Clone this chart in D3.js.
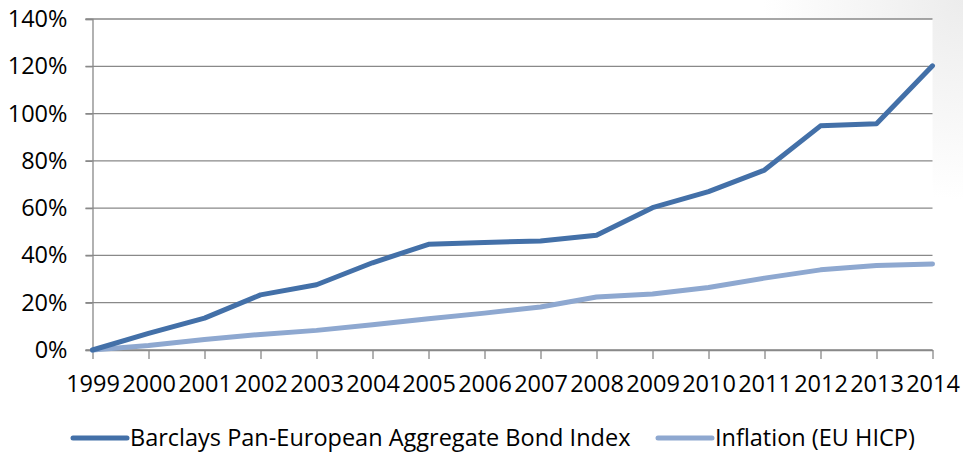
<!DOCTYPE html>
<html>
<head>
<meta charset="utf-8">
<script src="https://cdn.jsdelivr.net/npm/d3@7"></script>
<style>
  body { margin: 0; background: #fff; }
  svg text { font-family: "Open Sans", sans-serif; fill: #000; }
</style>
</head>
<body>
<div id="chart"></div>
<script>
const years = [1999, 2000, 2001, 2002, 2003, 2004, 2005, 2006, 2007, 2008, 2009, 2010, 2011, 2012, 2013, 2014]
const bondIndex = [0, 7, 13.5, 23.3, 27.6, 36.9, 44.7, 45.5, 46.1, 48.5, 60.2, 67, 76.1, 94.8, 95.7, 120.2]
const inflation = [0, 1.9, 4.4, 6.6, 8.3, 10.7, 13.2, 15.6, 18.2, 22.4, 23.7, 26.4, 30.4, 33.9, 35.7, 36.4]
const yTicks = [0, 20, 40, 60, 80, 100, 120, 140]
const seriesNames = ["Barclays Pan-European Aggregate Bond Index", "Inflation (EU HICP)"]

const width = 963, height = 456
const margin = { top: 19, right: 30.5, bottom: 106, left: 92.5 }
const fontSize = "23.5px"

const svg = d3.select("#chart")
    .append("svg")
    .attr("width", width)
    .attr("height", height)

// faint slide shading in the top right corner
const defs = svg.append("defs")
const grad = defs.append("radialGradient")
    .attr("id", "shade")
    .attr("cx", "100%").attr("cy", "0%").attr("r", "100%")
grad.append("stop").attr("offset", "0%").attr("stop-color", "#ececec")
grad.append("stop").attr("offset", "100%").attr("stop-color", "#ffffff")
svg.append("rect")
    .attr("x", width - 200).attr("y", 0)
    .attr("width", 200).attr("height", 200)
    .attr("fill", "url(#shade)")
svg.append("rect")
    .attr("x", margin.left).attr("y", margin.top)
    .attr("width", width - margin.left - margin.right)
    .attr("height", height - margin.top - margin.bottom)
    .attr("fill", "#fff")

const x = d3.scaleLinear()
    .domain([years[0], years[years.length - 1]])
    .range([margin.left, width - margin.right])

const y = d3.scaleLinear()
    .domain([0, 140])
    .range([height - margin.bottom, margin.top])

// gridlines
svg.append("g")
    .selectAll("line")
    .data(yTicks)
    .enter()
    .append("line")
    .attr("x1", margin.left - 7)
    .attr("x2", width - margin.right)
    .attr("y1", d => y(d))
    .attr("y2", d => y(d))
    .attr("stroke", "#898989")
    .attr("stroke-width", 1.3)

// y axis
const yAxis = svg.append("g")
    .attr("transform", "translate(" + margin.left + ",0)")
    .call(d3.axisLeft(y).tickValues(yTicks).tickFormat(d => d + "%").tickSize(7).tickPadding(18))
yAxis.select(".domain").attr("stroke", "#898989").attr("stroke-width", 1.3)
yAxis.selectAll(".tick line").attr("stroke", "#898989").attr("stroke-width", 1.3)
yAxis.selectAll("text").style("font-size", fontSize).attr("fill", "#000")

// x axis
const xAxis = svg.append("g")
    .attr("transform", "translate(0," + y(0) + ")")
    .call(d3.axisBottom(x).tickValues(years).tickFormat(d3.format("d")).tickSize(9).tickSizeOuter(0).tickPadding(16))
xAxis.select(".domain").attr("stroke", "#898989").attr("stroke-width", 1.3)
xAxis.selectAll(".tick line").attr("stroke", "#898989").attr("stroke-width", 1.3)
xAxis.selectAll("text").style("font-size", fontSize).attr("fill", "#000")

const line = d3.line()
    .x((d, i) => x(years[i]))
    .y(d => y(d))

const colors = ["#4370a8", "#8ea8d0"]

svg.append("path")
    .datum(inflation)
    .attr("d", line)
    .attr("fill", "none")
    .attr("stroke", colors[1])
    .attr("stroke-width", 5)
    .attr("stroke-linejoin", "round")
    .attr("stroke-linecap", "round")

svg.append("path")
    .datum(bondIndex)
    .attr("d", line)
    .attr("fill", "none")
    .attr("stroke", colors[0])
    .attr("stroke-width", 5)
    .attr("stroke-linejoin", "round")
    .attr("stroke-linecap", "round")

// legend
const legend = svg.append("g")
const legendX = [73, 658]
seriesNames.forEach((name, i) => {
    const g = legend.append("g").attr("transform", "translate(" + legendX[i] + ",438)")
    g.append("line")
        .attr("x1", 0).attr("x2", 54)
        .attr("stroke", colors[i])
        .attr("stroke-width", 5)
        .attr("stroke-linecap", "round")
    g.append("text")
        .attr("x", 57)
        .attr("y", 8)
        .style("font-size", fontSize)
        .text(name)
})
</script>
</body>
</html>
